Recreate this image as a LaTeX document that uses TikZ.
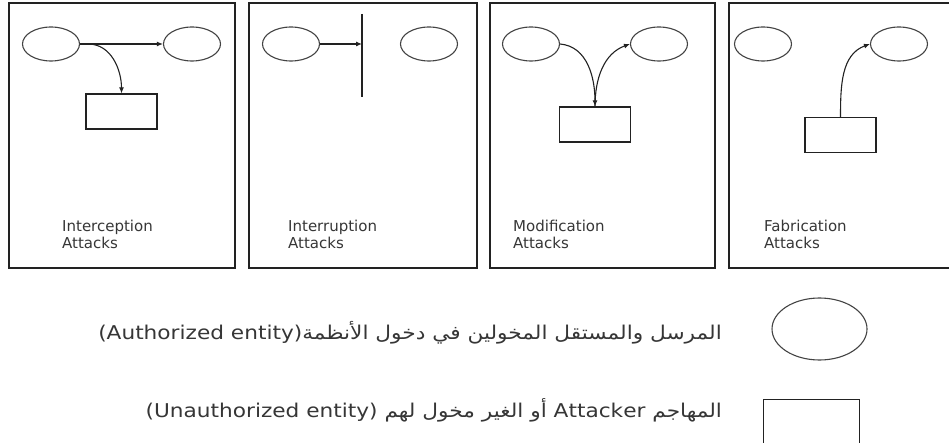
\documentclass[tikz,border=0pt]{standalone}
\usepackage{fontspec}
\setmainfont{DejaVu Sans}
\newfontfamily\arabicfont[Script=Arabic,FakeStretch=1.14]{DejaVu Sans}
\TeXXeTstate=1
\usetikzlibrary{arrows.meta,shapes.geometric,calc}

\definecolor{ink}{HTML}{222222}
\definecolor{txt}{HTML}{363636}

\tikzset{
  panel/.style={draw=ink, line width=1.4pt},
  party/.style={ellipse, draw=ink!85, line width=1.1pt, minimum width=57pt, minimum height=34pt, inner sep=0pt},
  intruder/.style={rectangle, draw=ink, line width=1.1pt, minimum width=71pt, minimum height=35pt, inner sep=0pt},
  flow/.style={draw=ink, line width=1.1pt, -{Latex[length=6pt,width=5pt]}},
  caption/.style={anchor=north west, inner sep=0pt, align=left, text=txt,
    font=\fontsize{15}{17}\selectfont},
  legendtext/.style={anchor=base east, inner sep=0pt, text=txt,
    font=\fontsize{19}{22}\selectfont\arabicfont},
}

\begin{document}
\begin{tikzpicture}[x=1pt, y=1pt]
\useasboundingbox (0,0) rectangle (949,-443);
\clip (0,0) rectangle (949,-443);

% ---- the four frames ----
\draw[panel] (9,-3) rectangle (235,-268);
\draw[panel] (249,-3) rectangle (477,-268);
\draw[panel] (490,-3) rectangle (715,-268);
\draw[panel] (729,-3) rectangle (952,-268);

% ---- interception ----
\node[party] (s1) at (51,-44) {};
\node[party] (r1) at (192,-44) {};
\node[intruder] (x1) at (121.5,-111.5) {};
\coordinate (tap1) at ($(s1.east)+(8,0)$);
\draw[flow] (s1.east) -- (r1.west);
\draw[flow] (tap1) to[out=0, in=90] (x1.north);
\node[caption] (c1) at (62,-220) {Interception\\Attacks};

% ---- interruption ----
\node[party] (s2) at (291,-44) {};
\node[party] (r2) at (429,-44) {};
\coordinate (cutTop) at (362,-14);
\coordinate (cutBot) at (362,-97);
\coordinate (cutHit) at (362,-44);
\draw[ink, line width=1.3pt] (cutTop) -- (cutBot);
\draw[flow] (s2.east) -- (cutHit);
\node[caption] (c2) at (288,-220) {Interruption\\Attacks};

% ---- modification ----
\node[party] (s3) at (531,-44) {};
\node[party] (r3) at (659,-44) {};
\node[intruder] (x3) at (595,-124.5) {};
\draw[flow] (s3.east) to[out=-5, in=90] (x3.north);
\draw[flow] (x3.north) to[out=90, in=200] (r3.west);
\node[caption] (c3) at (513,-220) {Modification\\Attacks};

% ---- fabrication ----
\node[party] (s4) at (763,-44) {};
\node[party] (r4) at (899,-44) {};
\node[intruder] (x4) at (840.5,-135) {};
\draw[flow] (x4.north) to[out=90, in=200] (r4.west);
\node[caption] (c4) at (764,-220) {Fabrication\\Attacks};

% ---- legend ----
\node[ellipse, draw=ink!85, line width=1.1pt, minimum width=95pt, minimum height=62pt, inner sep=0pt] (legA) at (819.5,-329) {};
\node[rectangle, draw=ink, line width=1.2pt, minimum width=96pt, minimum height=60pt, inner sep=0pt, anchor=north west] (legU) at (763,-399) {};

\node[legendtext] (tA) at (722,-339)
  {\beginR المرسل والمستقل المخولين في دخول الأنظمة\beginL(Authorized entity)\endL\endR};
\node[legendtext] (tU) at (722,-417)
  {\beginR المهاجم \beginL Attacker\endL{} أو الغير مخول لهم \beginL(Unauthorized entity)\endL\endR};
\end{tikzpicture}
\end{document}
